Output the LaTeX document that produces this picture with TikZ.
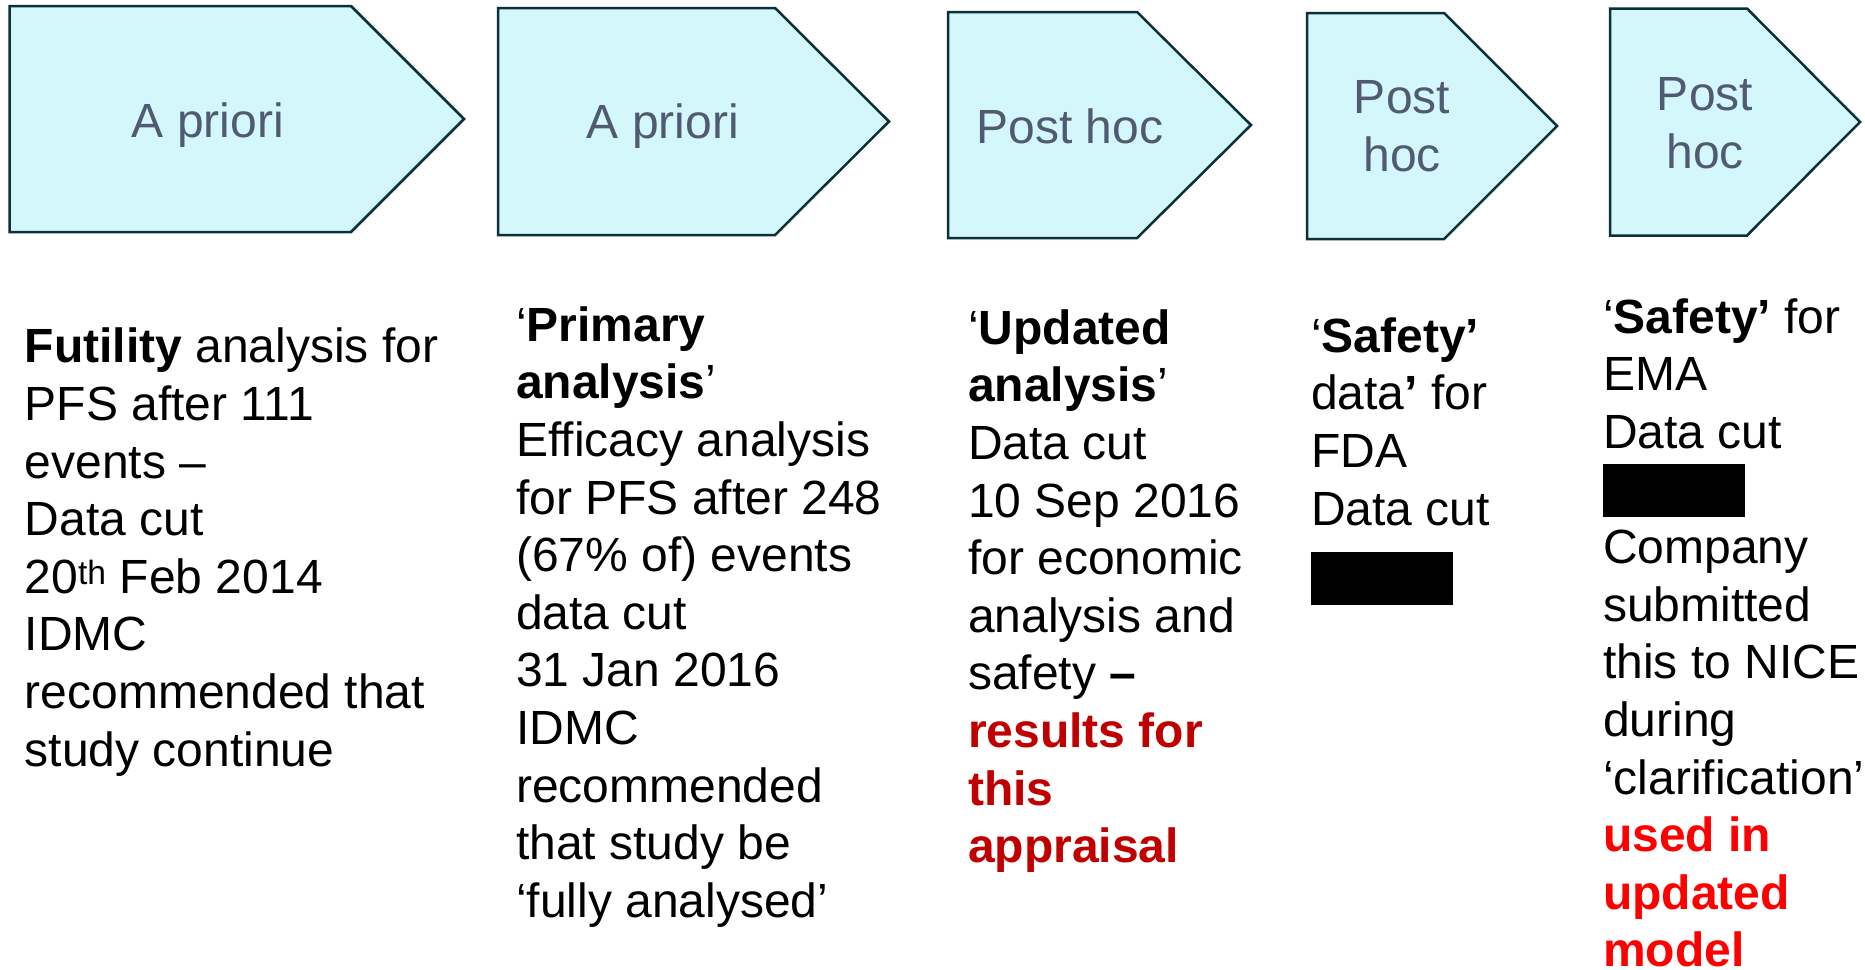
\documentclass[tikz,border=0pt]{standalone}
\usepackage{fontspec}
\setmainfont{Liberation Sans}
\definecolor{pentfill}{RGB}{212,247,252}
\definecolor{pentline}{RGB}{12,48,56}
\definecolor{penttext}{RGB}{80,90,112}
\definecolor{darkred}{RGB}{192,0,0}
\definecolor{brightred}{RGB}{255,0,0}
\begin{document}
\begin{tikzpicture}[x=1pt,y=-1pt,
  pent/.style={fill=pentfill,draw=pentline,line width=2.5pt,line join=miter},
  pentlabel/.style={text=penttext,font=\fontsize{48}{58}\selectfont,align=center,inner sep=0pt,anchor=north},
  body/.style={font=\fontsize{48}{57.6}\selectfont,align=left,inner sep=0pt,anchor=north west},
  redact/.style={fill=black,inner sep=0pt,minimum width=142pt,minimum height=53pt,anchor=north west}]
\useasboundingbox[fill=white] (0,0) rectangle (1865,969);

% pentagons
\path[pent] (9.5,6) -- (351,6) -- (464,119) -- (351,232) -- (9.5,232) -- cycle;
\path[pent] (498,8) -- (775,8) -- (889,121.5) -- (775,235) -- (498,235) -- cycle;
\path[pent] (948,12) -- (1137,12) -- (1251,125) -- (1137,238) -- (948,238) -- cycle;
\path[pent] (1307,13) -- (1444,13) -- (1557,126) -- (1444,239) -- (1307,239) -- cycle;
\path[pent] (1610,8.5) -- (1747,8.5) -- (1860,122) -- (1747,235.5) -- (1610,235.5) -- cycle;

\node[pentlabel] (l1) at (208,96.4) {\strut A priori};
\node[pentlabel] (l2) at (663,97.4) {\strut A priori};
\node[pentlabel] (l3) at (1070,102.4) {\strut Post hoc};
\node[pentlabel] (l4) at (1402,72.4) {\strut Post\\hoc};
\node[pentlabel] (l5) at (1705,69.4) {\strut Post\\hoc};

% descriptions
\node[body] (c1) at (24.5,322.4) {\strut\textbf{Futility} analysis for\\
PFS after 111\\
events –\\
Data cut\\
20\textsuperscript{th} Feb 2014\\
IDMC\\
recommended that\\
study continue};

\node[body] (c2) at (516,300.7) {\strut‘\textbf{Primary}\\
\textbf{analysis}’\\
Efficacy analysis\\
for PFS after 248\\
(67\% of) events\\
data cut\\
31 Jan 2016\\
IDMC\\
recommended\\
that study be\\
‘fully analysed’};

\node[body] (c3) at (968,303.7) {\strut‘\textbf{Updated}\\
\textbf{analysis}’\\
Data cut\\
10 Sep 2016\\
for economic\\
analysis and\\
safety \textbf{–}\\
\textcolor{darkred}{\textbf{results for}}\\
\textcolor{darkred}{\textbf{this}}\\
\textcolor{darkred}{\textbf{appraisal}}};

\node[body] (c4) at (1311,311.7) {\strut‘\textbf{Safety’}\\
data\textbf{’} for\\
FDA\\
Data cut};
\node[redact] (r4) at (1311,552) {};

\node[body] (c5) at (1603,292.7) {\strut‘\textbf{Safety’} for\\
EMA\\
Data cut\\
\strut\\
Company\\
submitted\\
this to NICE\\
during\\
‘clarification’\\
\textcolor{brightred}{\textbf{used in}}\\
\textcolor{brightred}{\textbf{updated}}\\
\textcolor{brightred}{\textbf{model}}};
\node[redact] (r5) at (1603,464) {};
\end{tikzpicture}
\end{document}
